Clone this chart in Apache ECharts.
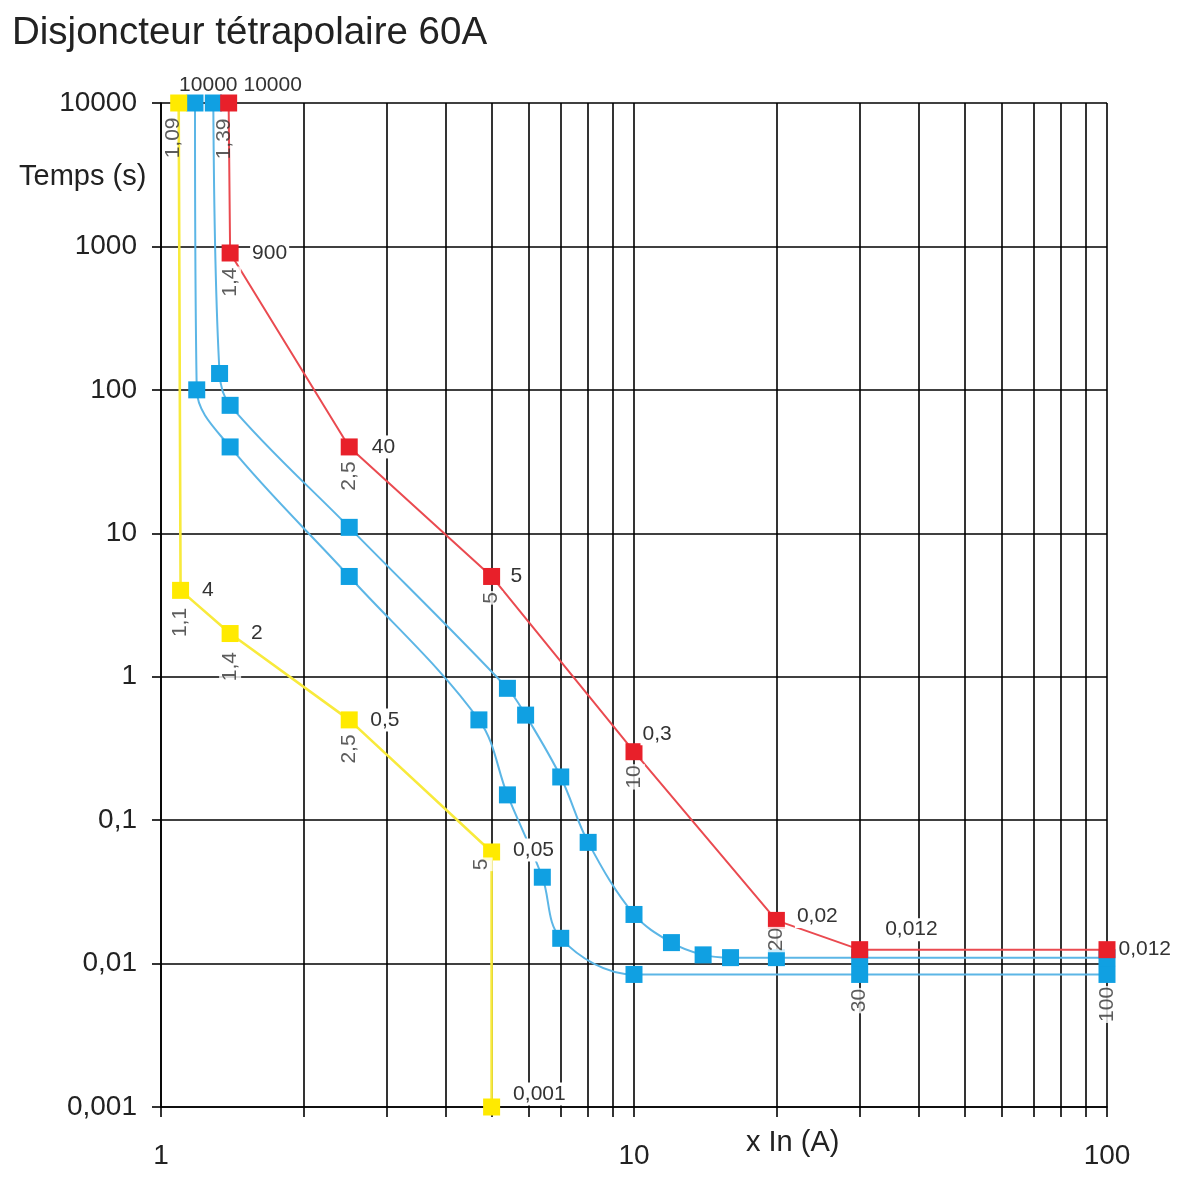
<!DOCTYPE html>
<html><head><meta charset="utf-8">
<script src="https://cdn.jsdelivr.net/npm/echarts@6/dist/echarts.min.js"></script>
<style>html,body{margin:0;padding:0;background:#fff}#c{width:1200px;height:1193px}</style>
</head><body><div id="c"></div>
<script>
// ---------- data ----------
const chartTitle = 'Disjoncteur tétrapolaire 60A';
const yAxisName = 'Temps (s)';
const xAxisName = 'x In (A)';
const xTicks = [1, 2, 3, 4, 5, 6, 7, 8, 9, 10, 20, 30, 40, 50, 60, 70, 80, 90, 100];
const xTickLabels = [1, 10, 100];
const yTicks = [0.001, 0.01, 0.1, 1, 10, 100, 1000, 10000];

const yellowX = [1.09, 1.1, 1.4, 2.5, 5, 5];
const yellowY = [10000, 4, 2, 0.5, 0.06, 0.001];
const yellowTimeLabels = ['', '4', '2', '0,5', '0,05', '0,001'];
const yellowCurrentLabels = ['1,09', '1,1', '1,4', '2,5', '5', ''];

const redX = [1.39, 1.4, 2.5, 5, 10, 20, 30, 100];
const redY = [10000, 900, 40, 5, 0.3, 0.02, 0.0125, 0.0125];
const redTimeLabels = ['10000', '900', '40', '5', '0,3', '0,02', '0,012', '0,012'];
const redCurrentLabels = ['1,39', '1,4', '2,5', '5', '10', '20', '', ''];

const blueLowX = [1.18, 1.19, 1.4, 2.5, 4.7, 5.4, 6.4, 7, 10, 30, 100];
const blueLowY = [10000, 100, 40, 5, 0.5, 0.15, 0.04, 0.015, 0.0084, 0.0084, 0.0084];
const blueLowCurrentLabels = ['', '', '', '', '', '', '', '', '', '30', '100'];

const blueHighX = [1.29, 1.33, 1.4, 2.5, 5.4, 5.9, 7, 8, 10, 12, 14, 16, 20, 30, 100];
const blueHighY = [10000, 130, 78, 11, 0.83, 0.54, 0.2, 0.07, 0.022, 0.014, 0.0115, 0.011, 0.011, 0.011, 0.011];
const blueHighTimeLabels = ['10000', '', '', '', '', '', '', '', '', '', '', '', '', '', ''];

// ---------- styling / label placement ----------
const FONT = '"Liberation Sans", Arial, sans-serif';
const TXT = '#333';
const LBL = 21;
const timePlace = {
  yellow: [null, {d: 11}, {d: 10.5}, {d: 10.5}, {d: 11, o: [0, -2]}, {d: 11, o: [0, -13]}],
  red: [{pos: 'top', d: -2, o: [44, 0], bg: false, fs: 21}, {d: 11.5}, {d: 12}, {d: 8.5}, {d: -2, o: [0, -18]},
        {d: 10, o: [0, -4]}, {d: 15, o: [0, -20]}, {d: 1}],
  blueHigh: [{pos: 'top', d: -2, o: [-5, 0], bg: false, fs: 21}]
};
// screen offsets [dx, dy] for the rotated labels
const curPlace = {
  yellow: [{d: 5, o: [-5, 0], bg: false}, {d: 8}, {d: 9}, {d: 5}, {d: -3, o: [-10, 0]}, null],
  red: [{d: 6, o: [-4, 0], bg: false}, {d: 5}, {d: 5}, {d: 6}, {d: 4}, {d: -2}, null, null],
  blueLow: [null, null, null, null, null, null, null, null, null, {d: 5}, {d: 3}]
};

function timeData(xs, ys, labels, place) {
  return xs.map((x, i) => {
    const item = {value: [x, ys[i]]};
    const p = place && place[i];
    if (labels && labels[i] && p) {
      item.label = {
        show: true, formatter: labels[i], position: p.pos || 'right', distance: p.d,
        offset: p.o || [0, 0], color: TXT, fontSize: p.fs || LBL, fontFamily: FONT,
        backgroundColor: p.bg === false ? 'transparent' : '#fff', padding: [1, 2]
      };
    }
    return item;
  });
}
function curData(xs, ys, labels, place) {
  const out = [];
  xs.forEach((x, i) => {
    const p = place && place[i];
    if (!labels[i] || !p) return;
    const o = p.o || [0, 0];
    out.push({
      value: [x, ys[i]],
      label: {
        show: true, formatter: labels[i], position: 'bottom', distance: p.d,
        // offset is expressed in the rotated frame: screen (dx, dy) -> (-dy, dx)
        offset: [-o[1], o[0]],
        rotate: 90, align: 'right', verticalAlign: 'middle', color: TXT, fontSize: LBL, fontFamily: FONT,
        lineHeight: 18, backgroundColor: p.bg === false ? 'transparent' : '#fff', padding: [2, 1]
      }
    });
  });
  return out;
}

const SYM = 17;
const series = [
  {
    type: 'line', name: 'blueLow', data: timeData(blueLowX, blueLowY), smooth: 0.35,
    symbol: 'rect', symbolSize: SYM, showAllSymbol: true,
    lineStyle: {color: '#5cb6e6', width: 2}, itemStyle: {color: '#10a0e2'}, z: 3
  },
  {
    type: 'line', name: 'blueHigh', data: timeData(blueHighX, blueHighY, blueHighTimeLabels, timePlace.blueHigh), smooth: 0.35,
    symbol: 'rect', symbolSize: SYM, showAllSymbol: true,
    lineStyle: {color: '#5cb6e6', width: 2}, itemStyle: {color: '#10a0e2'}, z: 3
  },
  {
    type: 'line', name: 'yellow', data: timeData(yellowX, yellowY, yellowTimeLabels, timePlace.yellow),
    symbol: 'rect', symbolSize: SYM, showAllSymbol: true,
    lineStyle: {color: '#f8ea3c', width: 2.6}, itemStyle: {color: '#ffea00'}, z: 4
  },
  {
    type: 'line', name: 'red', data: timeData(redX, redY, redTimeLabels, timePlace.red),
    symbol: 'rect', symbolSize: SYM, showAllSymbol: true,
    lineStyle: {color: '#ea4a50', width: 2}, itemStyle: {color: '#e8202a'}, z: 5
  },
  {
    type: 'scatter', name: 'currentLabels', symbol: 'rect', symbolSize: SYM,
    itemStyle: {color: 'rgba(0,0,0,0)'}, silent: true, z: 6,
    data: [].concat(
      curData(yellowX, yellowY, yellowCurrentLabels, curPlace.yellow),
      curData(redX, redY, redCurrentLabels, curPlace.red),
      curData(blueLowX, blueLowY, blueLowCurrentLabels, curPlace.blueLow)
    )
  }
];

const axisLineStyle = {color: '#000', width: 1.6};
const fmt = v => String(Number(Number(v).toPrecision(6))).replace('.', ',');

const option = {
  animation: false,
  backgroundColor: '#fff',
  title: {text: chartTitle, left: 12, top: 14, padding: 0,
    textStyle: {fontSize: 38.5, fontWeight: 'normal', color: '#222', fontFamily: FONT}},
  grid: {left: 161, right: 93, top: 103, bottom: 86, containLabel: false},
  xAxis: {
    type: 'log', logBase: 10, min: 1, max: 100,
    axisLine: {show: true, lineStyle: axisLineStyle},
    axisTick: {show: true, inside: false, length: 10, lineStyle: axisLineStyle, customValues: xTicks},
    axisLabel: {show: true, customValues: xTickLabels, margin: 35, fontSize: 28, color: '#222', fontFamily: FONT, formatter: fmt},
    splitLine: {show: true, lineStyle: axisLineStyle},
    minorTick: {show: false}, minorSplitLine: {show: false}
  },
  yAxis: {
    type: 'log', logBase: 10, min: 0.001, max: 10000,
    axisLine: {show: true, lineStyle: axisLineStyle},
    axisTick: {show: true, inside: false, length: 9, lineStyle: axisLineStyle, customValues: yTicks},
    axisLabel: {show: true, customValues: yTicks, margin: 24, fontSize: 28, color: '#222', fontFamily: FONT, formatter: fmt},
    splitLine: {show: true, lineStyle: axisLineStyle}
  },
  graphic: [
    {type: 'text', left: 19, top: 162, style: {text: yAxisName, fontSize: 29, fill: '#222', fontFamily: FONT}},
    {type: 'text', left: 746, top: 1128, style: {text: xAxisName, fontSize: 29, fill: '#222', fontFamily: FONT}}
  ],
  series: series
};
const chart = echarts.init(document.getElementById('c'), null, {renderer: 'canvas'});
chart.setOption(option);
</script></body></html>
